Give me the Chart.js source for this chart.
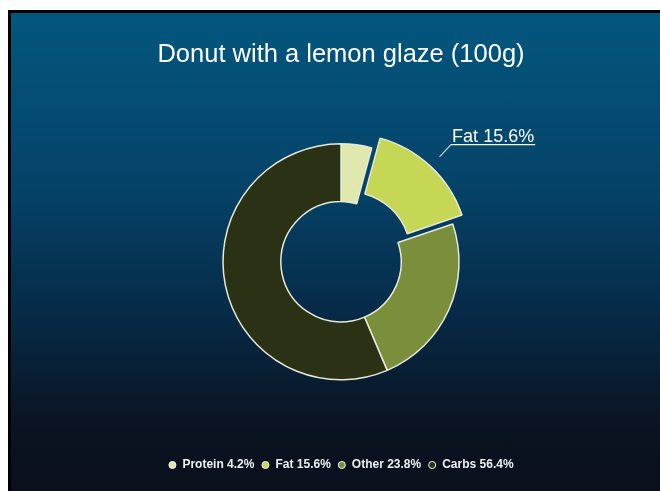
<!DOCTYPE html>
<html>
<head>
<meta charset="utf-8">
<script src="https://cdn.jsdelivr.net/npm/chart.js@4.4.1/dist/chart.umd.min.js"></script>
<style>
  html, body { margin:0; width:100%; height:100%; background:#fff; overflow:hidden; }
  #frame {
    position:absolute; left:8px; top:10px;
    width:720px; height:520px;
    border:3px solid #000;
    background:linear-gradient(to bottom, #03577f 0px, #054369 170px, #062c4a 290px, #0a1422 410px, #0a0f1b 478px, #0a0f1b 520px);
  }
  canvas { display:block; }
</style>
</head>
<body>
<div id="frame"><canvas id="donutChart" width="660" height="478"></canvas></div>
<script>
const labels = ['Protein', 'Fat', 'Other', 'Carbs'];
const values = [4.2, 15.6, 23.8, 56.4];
const colors = ['#dfe9ae', '#c6d756', '#7a8e3b', '#2b3115'];
const offsets = [0, 44, 0, 0];
const calloutIndex = 1;

const font = "'Liberation Sans', Arial, Helvetica, sans-serif";

// leader line + underlined label for the pulled-out slice
const calloutLabel = {
  id: 'calloutLabel',
  afterDatasetsDraw(chart) {
    const arc = chart.getDatasetMeta(0).data[calloutIndex];
    const { x, y, startAngle, endAngle, outerRadius, circumference } =
      arc.getProps(['x', 'y', 'startAngle', 'endAngle', 'outerRadius', 'circumference']);
    const mid = (startAngle + endAngle) / 2;
    // same shift the arc element applies for its offset
    const shift = offsets[calloutIndex] / 4 * (2 - Math.sin(Math.min(Math.PI, circumference)));
    const r1 = outerRadius + shift + 13;
    const r2 = outerRadius + shift + 30;
    const x1 = x + Math.cos(mid) * r1, y1 = y + Math.sin(mid) * r1;
    const x2 = x + Math.cos(mid) * r2, y2 = y + Math.sin(mid) * r2;
    const text = labels[calloutIndex] + ' ' + values[calloutIndex] + '%';

    const ctx = chart.ctx;
    ctx.save();
    ctx.font = '18px ' + font;
    const w = ctx.measureText(text).width;
    ctx.strokeStyle = '#b9cedc';
    ctx.lineWidth = 1.2;
    ctx.beginPath();
    ctx.moveTo(x1, y1);
    ctx.lineTo(x2, y2);
    ctx.stroke();
    ctx.strokeStyle = '#f2f4f6';
    ctx.beginPath();
    ctx.moveTo(x2, y2);
    ctx.lineTo(x2 + w + 2, y2);
    ctx.stroke();
    ctx.fillStyle = '#ffffff';
    ctx.textAlign = 'left';
    ctx.textBaseline = 'alphabetic';
    ctx.fillText(text, x2 + 1, y2 - 3);
    ctx.restore();
  }
};

new Chart(document.getElementById('donutChart'), {
  type: 'doughnut',
  data: {
    labels: labels,
    datasets: [{
      data: values,
      backgroundColor: colors,
      borderColor: '#e6ead6',
      borderWidth: 1.5,
      offset: offsets,
      hoverOffset: 0
    }]
  },
  options: {
    responsive: false,
    animation: false,
    events: [],
    radius: 118,
    cutout: '51%',
    layout: { padding: { bottom: 10 } },
    plugins: {
      title: {
        display: true,
        text: 'Donut with a lemon glaze (100g)',
        color: '#ffffff',
        font: { family: font, size: 25.5, weight: 'normal', lineHeight: 1.2 },
        padding: { top: 27, bottom: 1 }
      },
      legend: {
        position: 'bottom',
        labels: {
          color: '#eef0f2',
          font: { family: font, size: 12, weight: 'bold' },
          usePointStyle: true,
          pointStyle: 'circle',
          boxWidth: 8,
          boxHeight: 5,
          padding: 7,
          generateLabels(chart) {
            return labels.map((l, i) => ({
              text: l + ' ' + values[i] + '%',
              fillStyle: colors[i],
              strokeStyle: '#f4f4ee',
              lineWidth: 1,
              fontColor: '#eef0f2',
              pointStyle: 'circle',
              index: i
            }));
          }
        }
      },
      tooltip: { enabled: false }
    }
  },
  plugins: [calloutLabel]
});
</script>
</body>
</html>
